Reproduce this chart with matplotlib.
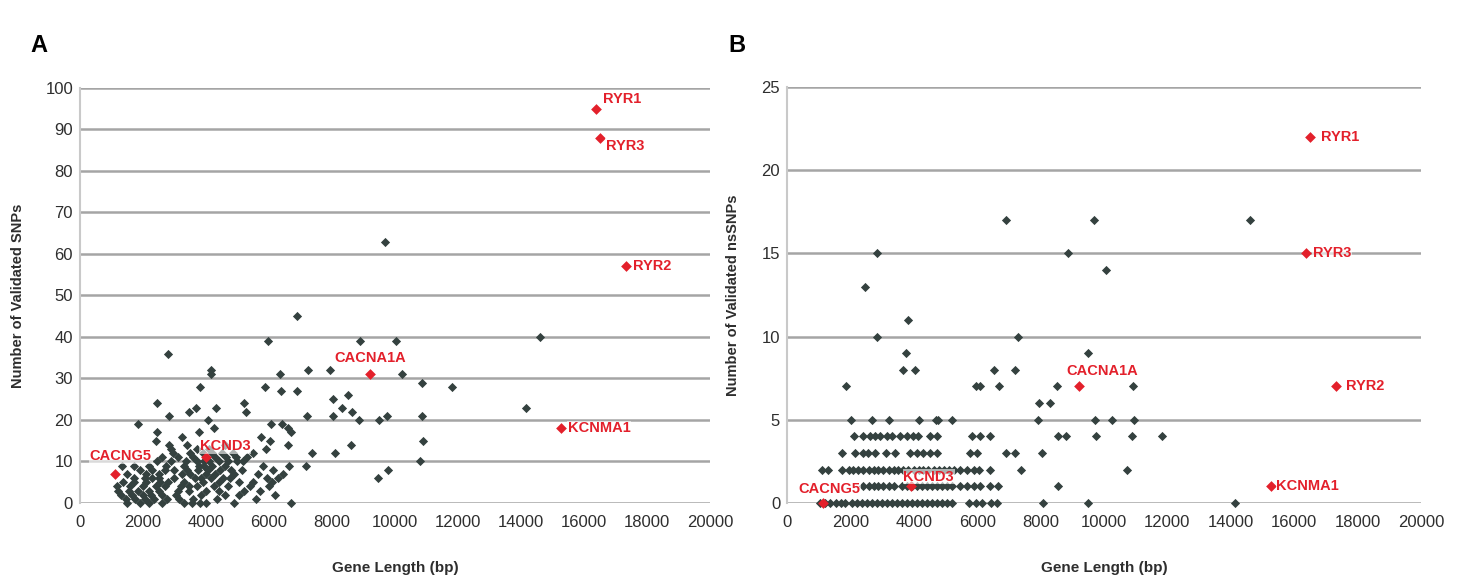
"""Validated SNPs / nsSNPs vs gene length (two panels, A and B)."""
import matplotlib
matplotlib.use("Agg")
import matplotlib.pyplot as plt

plt.rcParams["font.family"] = ["Liberation Sans", "DejaVu Sans"]

GRAY = "#34413f"
RED = "#e3202b"
GRID = "#a5a5a5"

# ---- Panel A: validated SNPs -------------------------------------------------
snp_len = [
    6900, 5975, 2780, 4150, 4150, 6360, 7250, 7930, 8880, 10030, 10220, 10850,
    3800, 5880, 6390, 6900, 2460, 3675, 3450, 4310, 5210, 5270, 2840, 4060,
    4250, 1850, 2460, 3770, 6070, 6420, 6610, 6710, 7220, 8020, 8500, 8310,
    8630, 8020, 8850, 9490, 9740, 10850, 5750, 6040, 6600, 7380, 8080, 8600,
    7190, 9460, 9780, 10800, 10900, 4890, 6710, 9680, 14600, 14160, 11820,
    3230, 2840, 2400,
    # dense cluster, row by row (y = 0 .. 14)
    1500, 1900, 2200, 2600, 3300, 3550, 3800, 4000,
    1450, 1750, 2050, 2350, 2750, 3150, 3600, 4350, 5600,
    1300, 1650, 2000, 2250, 2600, 3050, 3850, 4600, 5050, 6200,
    1200, 1550, 1850, 2200, 2500, 3100, 3450, 4000, 4400, 5200, 5700,
    1180, 1600, 2000, 2400, 2700, 3200, 3450, 3700, 4250, 4700, 5400, 6000,
    1350, 1700, 2100, 2550, 2800, 3300, 3900, 4400, 5050, 5500, 6100,
    1700, 2050, 2300, 2500, 3000, 3650, 3850, 4150, 4550, 4750, 5950, 6300,
    1500, 2100, 2500, 3250, 3500, 4000, 4300, 4900, 5650, 6450,
    1900, 2300, 2700, 3000, 3400, 3750, 4050, 4450, 4800, 5150, 6130,
    1340, 1730, 2200, 2720, 3300, 3770, 3950, 4200, 4600, 5800, 6650,
    2450, 2900, 3350, 3700, 3950, 4100, 4410, 4700, 5000, 5180,
    2600, 3100, 3600, 3990, 4300, 4650, 4950, 5300,
    2940, 3500, 3900, 4200, 4500, 4850, 5500,
    2900, 3700, 4100, 5900,
    3400, 4600,
]
snp_count = [
    45, 39, 36, 32, 31, 31, 32, 32, 39, 39, 31, 29,
    28, 28, 27, 27, 24, 23, 22, 23, 24, 22, 21, 20,
    18, 19, 17, 17, 19, 19, 18, 17, 21, 25, 26, 23,
    22, 21, 20, 20, 21, 21, 16, 15, 14, 12, 12, 14,
    9, 6, 8, 10, 15, 0, 0, 63, 40, 23, 28,
    16, 14, 15,
    0, 0, 0, 0, 0, 0, 0, 0,
    1, 1, 1, 1, 1, 1, 1, 1, 1,
    2, 2, 2, 2, 2, 2, 2, 2, 2, 2,
    3, 3, 3, 3, 3, 3, 3, 3, 3, 3, 3,
    4, 4, 4, 4, 4, 4, 4, 4, 4, 4, 4, 4,
    5, 5, 5, 5, 5, 5, 5, 5, 5, 5, 5,
    6, 6, 6, 6, 6, 6, 6, 6, 6, 6, 6, 6,
    7, 7, 7, 7, 7, 7, 7, 7, 7, 7,
    8, 8, 8, 8, 8, 8, 8, 8, 8, 8, 8,
    9, 9, 9, 9, 9, 9, 9, 9, 9, 9, 9,
    10, 10, 10, 10, 10, 10, 10, 10, 10, 10,
    11, 11, 11, 11, 11, 11, 11, 11,
    12, 12, 12, 12, 12, 12, 12,
    13, 13, 13, 13,
    14, 14,
]

# ---- Panel B: validated nsSNPs -----------------------------------------------
ns_len = [
    2840, 8850, 2460, 3820, 2840, 7270, 3760, 9480, 3670, 4040, 6540, 7200,
    1860, 5970, 6100, 6700, 8530, 10900, 7960, 8280, 6920, 9670, 14600, 10050,
    11820, 14120,
    # y = 5
    2020, 2690, 3220, 4170, 4710, 4770, 5210, 7930, 9730, 10240, 10930,
    # y = 4
    2120, 2400, 2620, 2780, 2940, 3160, 3320, 3570, 3790, 3980, 4140, 4520,
    4740, 5850, 6100, 6410, 8560, 8790, 9760, 10870,
    # y = 3
    1740, 2150, 2400, 2560, 2780, 3130, 3410, 3890, 4110, 4300, 4520, 4740,
    5780, 6000, 6920, 7200, 8030,
    # y = 2
    1100, 1300, 1730, 1940, 2090, 2250, 2410, 2570, 2730, 2880, 3040, 3200,
    3360, 3510, 3670, 3830, 3990, 4150, 4300, 4460, 4620, 4780, 4940, 5100,
    5260, 5470, 5680, 5890, 6050, 6410, 7390, 10740,
    # y = 1
    2410, 2570, 2730, 2880, 3040, 3200, 3360, 3620, 3780, 3940, 4100, 4250,
    4410, 4570, 4730, 4880, 5040, 5200, 5470, 5680, 5890, 6100, 6410, 6670,
    8560,
    # y = 0
    1050, 1210, 1370, 1530, 1690, 1840, 2050, 2210, 2370, 2530, 2690, 2840,
    3000, 3160, 3320, 3480, 3630, 3790, 3950, 4110, 4270, 4420, 4580, 4740,
    4900, 5060, 5210, 5740, 5950, 6160, 6420, 6630, 8060, 9480,
]
ns_count = [
    15, 15, 13, 11, 10, 10, 9, 9, 8, 8, 8, 8,
    7, 7, 7, 7, 7, 7, 6, 6, 17, 17, 17, 14,
    4, 0,
] + [5] * 11 + [4] * 20 + [3] * 17 + [2] * 32 + [1] * 25 + [0] * 34

# ---- highlighted genes ---------------------------------------------------------
genes = ["RYR1", "RYR3", "RYR2", "KCNMA1", "CACNA1A", "CACNG5", "KCND3"]
gene_len_a = [16390, 16520, 17320, 15270, 9200, 1120, 4000]
gene_snp = [95, 88, 57, 18, 31, 7, 11]
gene_len_b = [16500, 16370, 17320, 15260, 9200, 1120, 3900]
gene_ns = [22, 15, 7, 1, 7, 0, 1]

# label offsets in points (dx, dy, ha)
offs_a = [(5, 7, "left"), (4, -6, "left"), (5, 0, "left"), (5, 0, "left"),
          (0, 12, "center"), (4, 13, "center"), (14, 8, "center")]
offs_b = [(8, 0, "left"), (5, 0, "left"), (7, 0, "left"), (4, 0, "left"),
          (17, 11, "center"), (5, 10, "center"), (13, 7, "center")]


def style_axes(ax, ymax, ystep, ylabel):
    ax.set_xlim(0, 20000)
    ax.set_ylim(0, ymax)
    ax.set_xticks(range(0, 20001, 2000))
    ax.set_yticks(range(0, ymax + 1, ystep))
    ax.yaxis.grid(True, color=GRID, linewidth=1.8)
    ax.set_axisbelow(True)
    for side in ("top", "right", "bottom"):
        ax.spines[side].set_visible(False)
    ax.spines["left"].set_color("#c9c9c9")
    ax.spines["left"].set_linewidth(1.5)
    ax.tick_params(axis="both", length=0, labelsize=12, colors="#2e2e2e")
    ax.tick_params(axis="x", pad=9)
    ax.tick_params(axis="y", pad=5)
    ax.set_xlabel("Gene Length (bp)", fontsize=11, fontweight="bold", color="#2e2e2e")
    ax.set_ylabel(ylabel, fontsize=10.5, fontweight="bold", color="#2e2e2e")


def draw(ax, xs, ys, gx, gy, offs):
    ax.scatter(xs, ys, marker="D", s=22, color=GRAY, linewidths=0, zorder=3, clip_on=False)
    ax.scatter(gx, gy, marker="D", s=30, color=RED, linewidths=0, zorder=4, clip_on=False)
    for name, x, y, (dx, dy, ha) in zip(genes, gx, gy, offs):
        ax.annotate(name, (x, y), xytext=(dx, dy), textcoords="offset points",
                    ha=ha, va="center", fontsize=10.5, fontweight="bold", color=RED,
                    zorder=5,
                    bbox=dict(boxstyle="square,pad=0.05", fc="white", ec="none", alpha=0.6))


fig = plt.figure(figsize=(14.57, 5.78), dpi=100)
ax_a = fig.add_axes([0.0549, 0.1298, 0.4324, 0.718])
ax_b = fig.add_axes([0.5402, 0.1298, 0.4351, 0.72])

style_axes(ax_a, 100, 10, "Number of Validated SNPs")
style_axes(ax_b, 25, 5, "Number of Validated nsSNPs")
draw(ax_a, snp_len, snp_count, gene_len_a, gene_snp, offs_a)
draw(ax_b, ns_len, ns_count, gene_len_b, gene_ns, offs_b)

ax_a.yaxis.set_label_coords(-0.088, 0.5)
ax_b.yaxis.set_label_coords(-0.074, 0.5)
ax_a.xaxis.set_label_coords(0.5, -0.14)
ax_b.xaxis.set_label_coords(0.5, -0.14)

fig.text(30 / 1457, 1 - 45 / 578, "A", fontsize=17, fontweight="bold", va="center")
fig.text(728 / 1457, 1 - 45 / 578, "B", fontsize=17, fontweight="bold", va="center")

fig.savefig("out.png", dpi=100, facecolor="white")
